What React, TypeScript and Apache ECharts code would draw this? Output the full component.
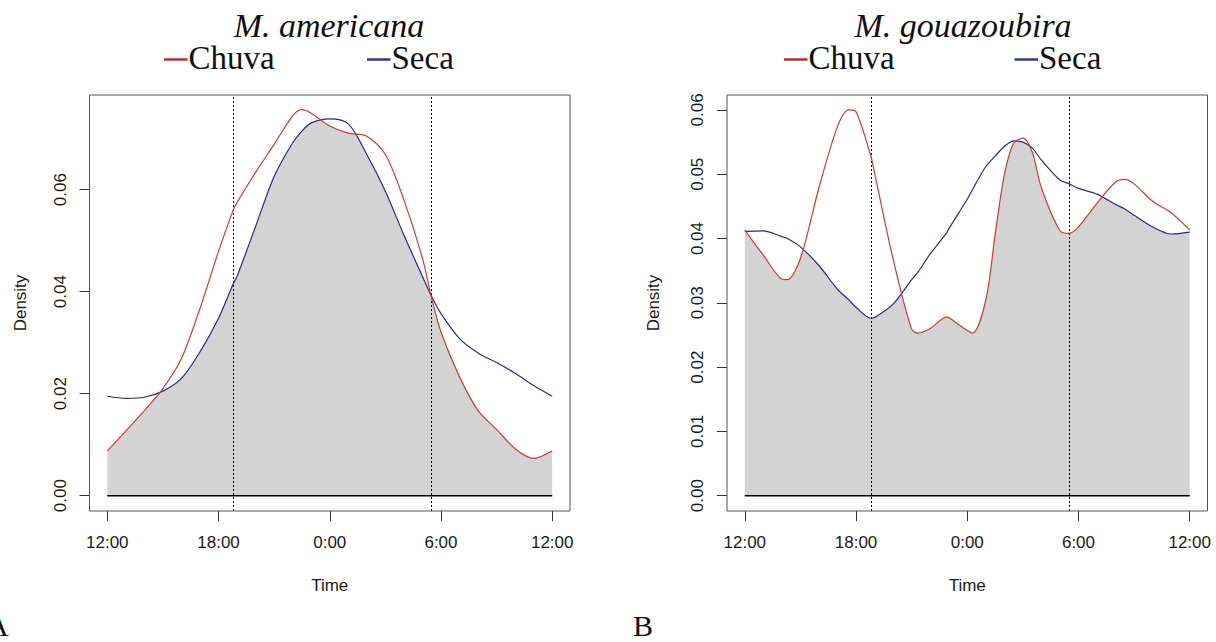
import React, { useEffect, useRef } from "react";
import * as echarts from "echarts";

// ---------- data ----------
const TICK_HOURS = [0, 6, 12, 18, 24]; // hours since 12:00
const TICK_LABELS = ["12:00", "18:00", "0:00", "6:00", "12:00"];
const SUNSET = 6.8; // ~18:48
const SUNRISE = 17.5; // ~5:30

// Panel A: M. americana
const hoursA = [0, 1, 2, 3, 4, 5, 6, 6.8, 7, 8, 9, 10, 10.5, 11, 12, 13, 14, 15, 16, 17, 17.5, 18, 19, 20, 21, 22, 23, 24];
const chuvaA = [0.0088, 0.0127, 0.0167, 0.021, 0.0269, 0.0367, 0.0479, 0.0561, 0.0575, 0.0634, 0.0689, 0.0745, 0.0757, 0.075, 0.0725, 0.0711, 0.0705, 0.0669, 0.058, 0.0466, 0.0387, 0.0321, 0.0233, 0.0167, 0.013, 0.0092, 0.0073, 0.0088];
const secaA = [0.0195, 0.0191, 0.0193, 0.0205, 0.023, 0.0282, 0.0348, 0.0416, 0.043, 0.0528, 0.0626, 0.0692, 0.0715, 0.0731, 0.0739, 0.0729, 0.0669, 0.0597, 0.0511, 0.043, 0.039, 0.0357, 0.0308, 0.028, 0.0261, 0.024, 0.0216, 0.0195];
const yTicksA = [0, 0.02, 0.04, 0.06];

// Panel B: M. gouazoubira
const hoursB = [0, 1, 2, 2.3, 3, 4, 5, 5.6, 6, 6.8, 7, 8, 9, 9.35, 10, 10.9, 11, 12, 12.3, 13, 13.5, 14, 14.5, 15, 15.5, 16, 17, 17.5, 18, 19, 20, 20.5, 21, 22, 23, 24];
const chuvaB = [0.0413, 0.0374, 0.0337, 0.0336, 0.0369, 0.0479, 0.0574, 0.06, 0.0597, 0.0528, 0.0502, 0.0368, 0.0259, 0.0253, 0.026, 0.0278, 0.0277, 0.0257, 0.0253, 0.0304, 0.0405, 0.0499, 0.0548, 0.0556, 0.0535, 0.0479, 0.0412, 0.0408, 0.0418, 0.0455, 0.0488, 0.0492, 0.0485, 0.0458, 0.044, 0.0413];
const secaB = [0.0411, 0.0412, 0.0403, 0.04, 0.0387, 0.0358, 0.0321, 0.0305, 0.0293, 0.0276, 0.0277, 0.0298, 0.0336, 0.0348, 0.0376, 0.0409, 0.0415, 0.0461, 0.0477, 0.0512, 0.0528, 0.0543, 0.0552, 0.055, 0.0541, 0.0522, 0.0491, 0.0485, 0.0478, 0.0469, 0.0453, 0.0446, 0.0436, 0.0418, 0.0407, 0.041];
const yTicksB = [0, 0.01, 0.02, 0.03, 0.04, 0.05, 0.06];

const SANS = '"Liberation Sans", Arial, sans-serif';
const SERIF = '"Liberation Serif", "Times New Roman", serif';
const RED = "#cf3a33";
const BLUE = "#262c80";
const TXT = "#1a1a1a";
const SMOOTH = 0.3;

const GRID_TOP = 95;
const GRID_H = 416;
const GRID_W = 480.5;
const GRID_LEFT = [89.5, 727];

function panel(i: number, hours: number[], chuva: number[], seca: number[], yMin: number, yMax: number, yTicks: number[], nameGap: number) {
  const xAxis = {
    gridIndex: i,
    type: "value",
    min: -0.96,
    max: 24.96,
    axisLine: { show: false, onZero: false },
    splitLine: { show: false },
    axisTick: { show: true, customValues: TICK_HOURS, length: 10, lineStyle: { color: "#333", width: 1 } },
    axisLabel: {
      customValues: TICK_HOURS,
      formatter: (v: number) => TICK_LABELS[TICK_HOURS.indexOf(Math.round(v))],
      fontSize: 17,
      fontFamily: SANS,
      color: TXT,
      margin: 23,
    },
    name: "Time",
    nameLocation: "middle",
    nameGap: 66,
    nameTextStyle: { fontSize: 17, fontFamily: SANS, color: TXT },
  };
  const yAxis = {
    gridIndex: i,
    type: "value",
    min: yMin,
    max: yMax,
    axisLine: { show: false, onZero: false },
    splitLine: { show: false },
    axisTick: { show: true, customValues: yTicks, length: 10, lineStyle: { color: "#333", width: 1 } },
    axisLabel: {
      customValues: yTicks,
      rotate: 90,
      formatter: (v: number) => v.toFixed(2),
      fontSize: 17,
      fontFamily: SANS,
      color: TXT,
      margin: 21,
    },
    name: "Density",
    nameLocation: "middle",
    nameGap: nameGap,
    nameRotate: 90,
    nameTextStyle: { fontSize: 17, fontFamily: SANS, color: TXT },
  };
  const series = [
    // gray fill under Chuva
    {
      type: "line",
      xAxisIndex: i,
      yAxisIndex: i,
      data: hours.map((h, k) => [h, chuva[k]]),
      smooth: SMOOTH,
      symbol: "none",
      lineStyle: { width: 0 },
      areaStyle: { color: "#d3d3d3", opacity: 1, origin: "start" },
      silent: true,
      z: 1,
    },
    // white cover above Seca -> gray remains only under both curves (overlap)
    {
      type: "line",
      xAxisIndex: i,
      yAxisIndex: i,
      data: hours.map((h, k) => [h, seca[k]]),
      smooth: SMOOTH,
      symbol: "none",
      lineStyle: { width: 0 },
      areaStyle: { color: "#ffffff", opacity: 1, origin: "end" },
      silent: true,
      z: 2,
    },
    // zero baseline (with white cover below it) and sunrise/sunset lines
    {
      type: "line",
      xAxisIndex: i,
      yAxisIndex: i,
      data: [
        [0, 0],
        [24, 0],
      ],
      symbol: "none",
      lineStyle: { color: "#000", width: 1.5 },
      areaStyle: { color: "#ffffff", opacity: 1, origin: "start" },
      silent: true,
      z: 3,
      markLine: {
        silent: true,
        symbol: ["none", "none"],
        label: { show: false },
        lineStyle: { type: [2, 2], color: "#000", width: 1 },
        data: [{ xAxis: SUNSET }, { xAxis: SUNRISE }],
      },
    },
    {
      type: "line",
      name: "Seca",
      xAxisIndex: i,
      yAxisIndex: i,
      data: hours.map((h, k) => [h, seca[k]]),
      smooth: SMOOTH,
      symbol: "none",
      lineStyle: { color: BLUE, width: 1.2 },
      z: 4,
    },
    {
      type: "line",
      name: "Chuva",
      xAxisIndex: i,
      yAxisIndex: i,
      data: hours.map((h, k) => [h, chuva[k]]),
      smooth: SMOOTH,
      symbol: "none",
      lineStyle: { color: RED, width: 1.2 },
      z: 5,
    },
  ];
  return { xAxis, yAxis, series };
}

function header(cx: number, title: string, chuvaDash: number, secaDash: number) {
  return [
    {
      type: "text",
      x: cx,
      y: 25,
      style: { text: title, fontSize: 34, fontFamily: SERIF, fontStyle: "italic", fill: "#111", align: "center", verticalAlign: "middle" },
    },
    { type: "line", shape: { x1: chuvaDash, y1: 59.5, x2: chuvaDash + 23.5, y2: 59.5 }, style: { stroke: "#c62828", lineWidth: 2.5 } },
    {
      type: "text",
      x: chuvaDash + 24.5,
      y: 57.5,
      style: { text: "Chuva", fontSize: 33, fontFamily: SERIF, fill: "#111", align: "left", verticalAlign: "middle" },
    },
    { type: "line", shape: { x1: secaDash, y1: 59.5, x2: secaDash + 23.5, y2: 59.5 }, style: { stroke: "#2b3a9a", lineWidth: 2.5 } },
    {
      type: "text",
      x: secaDash + 24.5,
      y: 57.5,
      style: { text: "Seca", fontSize: 33, fontFamily: SERIF, fill: "#111", align: "left", verticalAlign: "middle" },
    },
  ];
}

export default function App() {
  const ref = useRef<HTMLDivElement>(null);
  useEffect(() => {
    if (!ref.current) return;
    const chart = echarts.init(ref.current, null, { renderer: "svg" });
    const a = panel(0, hoursA, chuvaA, secaA, -0.003, 0.07857, yTicksA, 61);
    const b = panel(1, hoursB, chuvaB, secaB, -0.00238, 0.06232, yTicksB, 65);
    chart.setOption({
      animation: false,
      backgroundColor: "#ffffff",
      grid: GRID_LEFT.map((l) => ({ left: l, top: GRID_TOP, width: GRID_W, height: GRID_H, show: false, containLabel: false })),
      xAxis: [a.xAxis, b.xAxis],
      yAxis: [a.yAxis, b.yAxis],
      series: [...a.series, ...b.series],
      graphic: [
        ...GRID_LEFT.map((l) => ({
          type: "rect",
          z: 100,
          silent: true,
          shape: { x: l, y: GRID_TOP, width: GRID_W, height: GRID_H },
          style: { fill: "none", stroke: "#555", lineWidth: 1 },
        })),
        ...header(329, "M. americana", 164, 367),
        ...header(963, "M. gouazoubira", 784, 1014.5),
        { type: "text", x: -13, y: 625, style: { text: "A", fontSize: 30, fontFamily: SERIF, fill: "#111", align: "left", verticalAlign: "middle" } },
        { type: "text", x: 633, y: 625, style: { text: "B", fontSize: 30, fontFamily: SERIF, fill: "#111", align: "left", verticalAlign: "middle" } },
      ],
    });
    return () => chart.dispose();
  }, []);
  return <div ref={ref} style={{ position: "fixed", left: 0, top: 0, width: 1216, height: 642, background: "#fff" }} />;
}
